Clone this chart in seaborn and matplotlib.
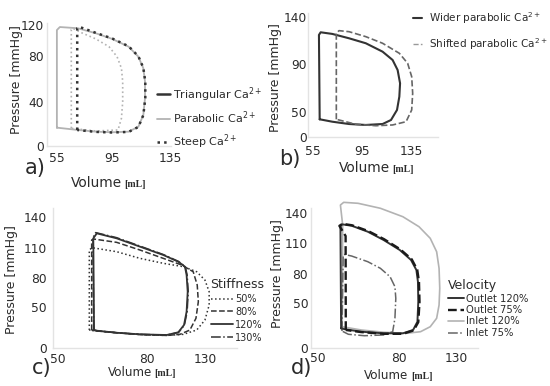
import matplotlib
matplotlib.use('Agg')
import matplotlib.pyplot as plt
from matplotlib.lines import Line2D
import seaborn as sns

# ---- panel a: Ca2+ transient shape ----
a_par_vol = [55, 55, 57.1, 69.8, 82.6, 94.2, 105.8, 112.7, 116.2, 117.4, 117.4, 116.2, 112.7, 105.8, 94.2, 82.6, 69.8, 55]
a_par_p = [18.2, 115, 118, 116.8, 111.8, 106.2, 98.5, 88.6, 77.1, 63.8, 47.3, 30.8, 19.1, 14.2, 13.6, 14.2, 15.9, 18.2]
a_tri_vol = [65.2, 65.2, 66.2, 73.3, 82.6, 91.9, 97.6, 100.7, 101.6, 101.6, 100.7, 98.3, 82.6, 65.2]
a_tri_p = [17.5, 115.5, 116.8, 111.8, 106.2, 98.5, 88.6, 77.1, 63.8, 44.0, 27.5, 15.9, 14.9, 17.5]
a_steep_vol = [69.4, 69.4, 70.8, 82.6, 94.2, 105.8, 112.7, 116.2, 117.6, 117.6, 116.2, 112.7, 105.8, 94.2, 82.6, 69.4]
a_steep_p = [15.9, 116.8, 118.2, 112.2, 106.6, 98.9, 89.0, 77.5, 63.8, 47.3, 30.6, 18.9, 14.0, 13.4, 14.0, 15.9]
a_labels = ['Triangular Ca$^{2+}$', 'Parabolic Ca$^{2+}$', 'Steep Ca$^{2+}$']
a_xticks = [55, 94, 135]
a_xlabels = ['55', '95', '135']
a_yticks = [0, 43.4, 89.3, 120]
a_ylabels = ['0', '40', '80', '120']

# ---- panel b: wider / shifted parabolic ----
b_wide_vol = [60.3, 59.7, 61.1, 70.6, 84.3, 98.0, 111.7, 119.9, 124.0, 126.0, 125.4, 123.5, 118.6, 111.7, 98.0, 84.3, 70.6, 60.3]
b_wide_p = [20.3, 118.7, 121.8, 119.9, 114.8, 109.0, 99.2, 89.5, 77.8, 62.3, 46.7, 31.2, 19.5, 14.8, 13.7, 14.8, 17.5, 20.3]
b_shift_vol = [73.9, 73.9, 76.1, 84.3, 98.0, 111.7, 125.4, 132.2, 135.5, 136.3, 135.5, 130.9, 119.9, 106.3, 89.8, 73.9]
b_shift_p = [20.3, 120.7, 123.7, 122.5, 116.7, 109.0, 97.3, 85.6, 70.0, 50.6, 31.2, 17.5, 13.7, 12.8, 14.5, 20.3]
b_labels = ['Wider parabolic Ca$^{2+}$', 'Shifted parabolic Ca$^{2+}$']
b_xticks = [55, 95, 135]
b_xlabels = ['55', '95', '135']
b_yticks = [0, 29.2, 84.8, 140]
b_ylabels = ['0', '50', '90', '140']

# ---- panel c: stiffness ----
c_50_vol = [67.0, 67.0, 68.5, 81.9, 94.6, 107.3, 118.2, 125.5, 130.0, 132.3, 132.3, 130.0, 125.5, 118.2, 109.2, 94.6, 81.9, 68.5, 67.0]
c_50_p = [19.2, 104.7, 107.2, 102.9, 95.8, 90.5, 86.9, 81.5, 72.6, 60.1, 45.9, 29.9, 19.2, 14.6, 13.4, 14.4, 16.3, 18.7, 19.2]
c_80_vol = [68.3, 68.3, 69.2, 81.9, 94.6, 107.3, 117.3, 123.6, 125.8, 126.4, 125.1, 121.8, 116.4, 109.2, 94.6, 81.9, 69.0, 68.3]
c_80_p = [19.2, 115.4, 116.5, 112.9, 104.7, 95.8, 88.7, 81.5, 67.3, 49.5, 31.7, 19.2, 14.6, 13.4, 14.4, 16.3, 18.5, 19.2]
c_120_vol = [69.6, 69.2, 71.1, 81.9, 94.6, 107.3, 115.5, 119.1, 120.0, 120.6, 120.0, 118.6, 115.5, 109.2, 94.6, 81.9, 71.1, 69.6]
c_120_p = [19.2, 117.2, 122.5, 117.2, 108.3, 99.4, 92.2, 86.9, 78.0, 60.1, 38.8, 24.6, 16.8, 13.9, 14.6, 16.3, 18.5, 19.2]
c_130_vol = [69.4, 69.0, 70.5, 81.9, 94.6, 107.3, 115.6, 119.3, 120.3, 120.9, 120.3, 118.8, 115.6, 109.2, 94.6, 81.9, 71.0, 69.4]
c_130_p = [19.4, 117.8, 123.3, 117.9, 108.9, 99.9, 92.5, 87.0, 78.0, 60.0, 38.7, 24.4, 16.6, 13.8, 14.6, 16.3, 18.5, 19.4]
c_labels = ['50%', '80%', '120%', '130%']
c_xticks = [50, 98.4, 130]
c_xlabels = ['50', '80', '130']
c_yticks = [0, 44.1, 75.1, 107.2, 139.5]
c_ylabels = ['0', '50', '80', '110', '140']

# ---- panel d: velocity ----
d_out120_vol = [63.7, 63.3, 64.2, 69.8, 79.1, 88.3, 97.6, 104.1, 107.2, 108.1, 108.3, 107.8, 105.3, 99.4, 88.3, 75.3, 66.1, 63.7]
d_out120_p = [20.5, 126.5, 129.0, 127.5, 121.3, 112.6, 102.2, 91.8, 81.3, 69.1, 48.3, 27.4, 18.8, 15.3, 15.3, 17.0, 19.5, 20.5]
d_out75_vol = [66.4, 66.3, 62.7, 64.5, 70.0, 79.3, 88.5, 97.8, 104.5, 107.7, 108.7, 109.0, 108.3, 105.6, 99.4, 88.3, 75.3, 66.4]
d_out75_p = [18.8, 116.8, 127.4, 129.5, 128.0, 122.0, 113.5, 103.0, 92.5, 81.5, 69.0, 48.0, 27.0, 18.3, 14.8, 14.8, 16.6, 18.8]
d_in120_vol = [64.3, 64.6, 63.3, 65.2, 73.5, 86.4, 99.4, 108.7, 115.2, 118.9, 120.3, 120.7, 120.3, 118.9, 115.2, 109.6, 101.3, 88.3, 75.3, 64.3]
d_in120_p = [22.2, 128.3, 149.1, 151.9, 150.9, 145.7, 136.9, 126.5, 114.4, 100.4, 83.1, 62.3, 44.8, 31.0, 22.2, 17.0, 15.3, 16.4, 18.8, 22.2]
d_in75_vol = [64.2, 64.9, 65.7, 69.8, 79.1, 86.4, 92.0, 94.8, 95.3, 94.8, 93.5, 88.3, 77.2, 67.9, 64.2]
d_in75_p = [17.7, 97.0, 97.5, 95.9, 90.0, 83.1, 74.3, 63.9, 51.8, 31.0, 17.0, 13.6, 12.8, 14.3, 17.7]
d_labels = ['Outlet 120%', 'Outlet 75%', 'Inlet 120%', 'Inlet 75%']
d_xticks = [50, 97.2, 130]
d_xlabels = ['50', '80', '130']
d_yticks = [0, 47.2, 76.9, 109.2, 140.5]
d_ylabels = ['0', '50', '80', '110', '140']

DARK = '#333333'
MID = '#666666'
LIGHT = '#b3b3b3'
TEXT = '#2b2b2b'

W, H = 550, 386


def px_box(l, t, r, b):
    return [l / W, 1 - b / H, (r - l) / W, (b - t) / H]


def loop(ax, vol, p, color, ls='-', lw=1.3, clip=True):
    sns.lineplot(x=vol, y=p, sort=False, estimator=None, ax=ax, color=color,
                 linestyle=ls, linewidth=lw, clip_on=clip)


def style_axes(ax, xlim, ylim, xticks, xlabels, yticks, ylabels, xpad, ypad, ylab_pos):
    ax.set_xlim(xlim)
    ax.set_ylim(ylim)
    ax.set_xticks(xticks)
    ax.set_xticklabels(xlabels)
    ax.set_yticks(yticks)
    ax.set_yticklabels(ylabels)
    ax.tick_params(axis='x', length=0, pad=xpad, labelsize=8.8, labelcolor=TEXT)
    ax.tick_params(axis='y', length=0, pad=ypad, labelsize=8.8, labelcolor=TEXT)
    for s in ['left', 'bottom']:
        ax.spines[s].set_color('#e3e3e3')
        ax.spines[s].set_linewidth(1.0)
    sns.despine(ax=ax)
    ax.set_xlabel('')
    ax.set_ylabel('Pressure [mmHg]', fontsize=9, color=TEXT)
    ax.yaxis.set_label_coords(*ylab_pos)


def volume_label(x_split, y_base, size):
    # "Volume" in sans, unit in a small bold serif, as in the original figure
    fig.text(x_split / W, 1 - y_base / H, 'Volume', fontsize=size, color=TEXT,
             ha='right', va='baseline')
    fig.text((x_split + 2.5) / W, 1 - y_base / H, '[mL]', fontsize=7, color=TEXT,
             ha='left', va='baseline', family='Liberation Serif', weight='bold')


sns.set_style('white')
plt.rcParams['font.family'] = ['DejaVu Sans']

fig = plt.figure(figsize=(5.5, 3.86), dpi=100)

# a)
ax = fig.add_axes(px_box(47, 23, 171, 146))
loop(ax, a_par_vol, a_par_p, LIGHT, '-', 1.3)
loop(ax, a_tri_vol, a_tri_p, LIGHT, ':', 1.2)
loop(ax, a_steep_vol, a_steep_p, DARK, ':', 1.8)
style_axes(ax, (48, 135.8), (0, 122), a_xticks, a_xlabels, a_yticks, a_ylabels,
           4.3, 2.5, (-0.195, 0.54))
handles = [Line2D([], [], color=DARK, lw=1.8),
           Line2D([], [], color=LIGHT, lw=1.3),
           Line2D([], [], color=DARK, lw=1.8, ls=':')]
ax.legend(handles, a_labels, loc='upper left', bbox_to_anchor=(157 / W, 1 - 85 / H),
          bbox_transform=fig.transFigure, frameon=False, fontsize=8,
          handlelength=1.2, handletextpad=0.2, labelspacing=0.55,
          borderpad=0, borderaxespad=0, labelcolor=TEXT)
volume_label(121.7, 187, 9.8)

# b)
ax = fig.add_axes(px_box(308.3, 13, 438, 136.7))
loop(ax, b_wide_vol, b_wide_p, DARK, '-', 1.5)
loop(ax, b_shift_vol, b_shift_p, MID, '--', 1.2)
style_axes(ax, (51, 157), (0, 144.3), b_xticks, b_xlabels, b_yticks, b_ylabels,
           6, 1.2, (-0.2, 0.48))
handles = [Line2D([], [], color=DARK, lw=1.5),
           Line2D([], [], color='#999999', lw=1.0, ls='--')]
ax.legend(handles, b_labels, loc='upper left', bbox_to_anchor=(413 / W, 1 - 10 / H),
          bbox_transform=fig.transFigure, frameon=False, fontsize=7.5,
          handlelength=0.9, handletextpad=0.6, labelspacing=1.0,
          borderpad=0, borderaxespad=0, labelcolor=TEXT)
volume_label(390, 171.5, 9.8)

# c)
ax = fig.add_axes(px_box(53.3, 208, 236.7, 348))
loop(ax, c_50_vol, c_50_p, DARK, ':', 1.1)
loop(ax, c_80_vol, c_80_p, DARK, '--', 1.1)
loop(ax, c_120_vol, c_120_p, DARK, '-', 1.3)
loop(ax, c_130_vol, c_130_p, DARK, '-.', 1.1)
style_axes(ax, (47.4, 147.3), (0, 149.6), c_xticks, c_xlabels, c_yticks, c_ylabels,
           3.4, 4.5, (-0.19, 0.49))
handles = [Line2D([], [], color=DARK, lw=1.1, ls=':'),
           Line2D([], [], color=DARK, lw=1.1, ls='--'),
           Line2D([], [], color=DARK, lw=1.3),
           Line2D([], [], color=DARK, lw=1.1, ls='-.')]
leg = ax.legend(handles, c_labels, title='Stiffness', loc='upper left',
                bbox_to_anchor=(210 / W, 1 - 278 / H), bbox_transform=fig.transFigure,
                frameon=False, fontsize=7, title_fontsize=9, handlelength=2.3,
                handletextpad=0.2, labelspacing=0.3, borderpad=0, borderaxespad=0,
                labelcolor=TEXT)
leg.get_title().set_color(TEXT)
volume_label(151.7, 375.5, 8.6)

# d)
ax = fig.add_axes(px_box(311, 208, 478, 348))
loop(ax, d_in120_vol, d_in120_p, LIGHT, '-', 1.2, clip=False)
loop(ax, d_in75_vol, d_in75_p, MID, '-.', 1.1)
loop(ax, d_out120_vol, d_out120_p, DARK, '-', 1.4)
loop(ax, d_out75_vol, d_out75_p, '#1a1a1a', '--', 1.7)
style_axes(ax, (46.3, 142.8), (0, 146), d_xticks, d_xlabels, d_yticks, d_ylabels,
           3, 2, (-0.16, 0.535))
handles = [Line2D([], [], color=DARK, lw=1.4),
           Line2D([], [], color='#1a1a1a', lw=1.7, ls='--'),
           Line2D([], [], color=LIGHT, lw=1.2),
           Line2D([], [], color=MID, lw=1.1, ls='-.')]
leg = ax.legend(handles, d_labels, title='Velocity', loc='upper left',
                bbox_to_anchor=(448 / W, 1 - 279 / H), bbox_transform=fig.transFigure,
                frameon=False, fontsize=7.2, title_fontsize=9, handlelength=1.6,
                handletextpad=0.15, labelspacing=0.15, borderpad=0, borderaxespad=0,
                alignment='left', labelcolor=TEXT)
leg.get_title().set_color(TEXT)
volume_label(408.3, 379, 8.6)

# panel letters
for letter, x, y in [('a)', 35, 168), ('b)', 290, 159), ('c)', 42, 368), ('d)', 302, 368)]:
    fig.text(x / W, 1 - y / H, letter, fontsize=15, color=TEXT, ha='center', va='center')

fig.savefig('out.png', dpi=100)
